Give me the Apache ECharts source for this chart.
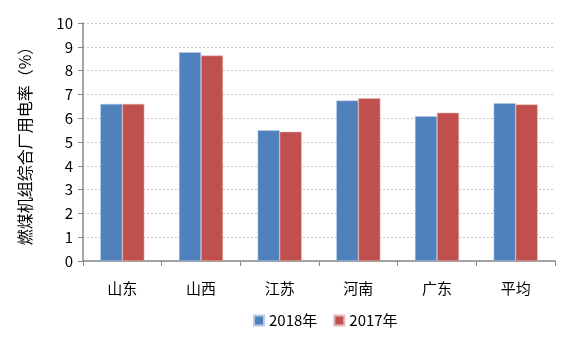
<!DOCTYPE html>
<html><head><meta charset="utf-8">
<script src="https://cdn.jsdelivr.net/npm/echarts@6/dist/echarts.min.js"></script>
<style>html,body{margin:0;padding:0;background:#fff}#c{width:580px;height:338px}</style>
</head><body><div id="c"></div>
<script>
const categories = ['山东','山西','江苏','河南','广东','平均'];
const s2018 = [6.6, 8.77, 5.49, 6.74, 6.08, 6.63];
const s2017 = [6.6, 8.63, 5.43, 6.84, 6.23, 6.58];
const yTicks = {min:0, max:10, interval:1};
const chart = echarts.init(document.getElementById('c'), null, {renderer:'canvas'});
const font = '"Noto Sans CJK SC", "Noto Sans", sans-serif';
chart.setOption({
  animation:false,
  grid:{left:83, right:25, top:23, bottom:77},
  legend:{bottom:5, left:248, itemWidth:10, itemHeight:10, itemGap:16,
    textStyle:{fontSize:15, color:'#000', fontFamily:font},
    data:['2018年','2017年'], icon:'rect'},
  xAxis:{type:'category', data:categories,
    axisLine:{lineStyle:{color:'#888', width:1.5}},
    axisTick:{show:true, length:5, lineStyle:{color:'#888'}},
    axisLabel:{fontSize:15, color:'#000', margin:20, fontFamily:font}},
  yAxis:{type:'value', min:yTicks.min, max:yTicks.max, interval:yTicks.interval,
    name:'燃煤机组综合厂用电率（%）', nameLocation:'middle', nameGap:50, nameRotate:90,
    nameTextStyle:{fontSize:16, color:'#000', fontFamily:font},
    axisLine:{show:true, lineStyle:{color:'#888', width:1.5}},
    axisTick:{show:true, length:5, lineStyle:{color:'#888'}},
    axisLabel:{fontSize:15, color:'#000', margin:10, fontFamily:font},
    splitLine:{lineStyle:{color:'#c4c4c4', type:[2,2]}}},
  series:[
    {name:'2018年', type:'bar', data:s2018, barWidth:22, barGap:'0%',
      itemStyle:{color:'#4F81BD', borderColor:'#b8cce4', borderWidth:0.5}},
    {name:'2017年', type:'bar', data:s2017, barWidth:22, barGap:'0%',
      itemStyle:{color:'#C0504D', borderColor:'#e6b9b8', borderWidth:0.5}}
  ]
});
</script></body></html>
